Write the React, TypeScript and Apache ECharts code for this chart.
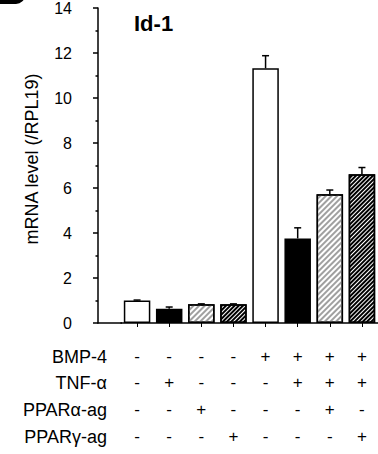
import React, { useEffect, useRef } from 'react';
import * as echarts from 'echarts';

const categories = ['c1', 'c2', 'c3', 'c4', 'c5', 'c6', 'c7', 'c8'];
const meanValues = [1.0, 0.63, 0.83, 0.83, 11.32, 3.76, 5.72, 6.61];
const errorValues = [0.02, 0.08, 0.02, 0.02, 0.56, 0.47, 0.19, 0.3];
const fillKinds = ['white', 'black', 'lightHatch', 'darkHatch', 'white', 'black', 'lightHatch', 'darkHatch'];
const rowLabels = ['BMP-4', 'TNF-α', 'PPARα-ag', 'PPARγ-ag'];
const bmp4 = ['-', '-', '-', '-', '+', '+', '+', '+'];
const tnfA = ['-', '+', '-', '-', '-', '+', '+', '+'];
const pparA = ['-', '-', '+', '-', '-', '-', '+', '-'];
const pparG = ['-', '-', '-', '+', '-', '-', '-', '+'];
const yMin = 0;
const yMax = 14;
const yInterval = 2;
const titleText = 'Id-1';
const yAxisName = 'mRNA level (/RPL19)';

const FONT = '"Liberation Sans", Arial, sans-serif';

function styleFor(kind: string) {
  const base: any = { borderColor: '#000', borderWidth: 1.5 };
  if (kind === 'white') return { ...base, color: '#fff' };
  if (kind === 'black') return { ...base, color: '#000' };
  if (kind === 'lightHatch')
    return {
      ...base,
      color: '#fff',
      decal: {
        symbol: 'rect',
        symbolSize: 1,
        color: '#a0a0a0',
        dashArrayX: [1, 0],
        dashArrayY: [1.1, 1.6],
        rotation: -Math.PI / 4,
      },
    };
  return {
    ...base,
    color: '#fff',
    decal: {
      symbol: 'rect',
      symbolSize: 1,
      color: '#000',
      dashArrayX: [1, 0],
      dashArrayY: [1.4, 1.0],
      rotation: -Math.PI / 4,
    },
  };
}

export default function App() {
  const ref = useRef<HTMLDivElement>(null);
  useEffect(() => {
    if (!ref.current) return;
    const chart = echarts.init(ref.current, null, { renderer: 'svg' });
    const rowY = [356.7, 383.3, 410, 436.5];
    chart.setOption({
      animation: false,
      backgroundColor: '#fff',
      grid: { left: 121, right: 0, top: 7.5, bottom: 131, containLabel: false },
      xAxis: {
        type: 'category',
        data: categories,
        axisLine: { show: true, lineStyle: { color: '#000', width: 1.5 } },
        axisTick: { show: true, alignWithLabel: true, length: 4, lineStyle: { color: '#000', width: 1 } },
        axisLabel: {
          interval: 0,
          margin: 20,
          fontSize: 17,
          lineHeight: 26.6,
          color: '#000',
          fontFamily: FONT,
          formatter: (_v: string, i: number) => [bmp4[i], tnfA[i], pparA[i], pparG[i]].join('\n'),
        },
        splitLine: { show: false },
      },
      yAxis: {
        type: 'value',
        min: yMin,
        max: yMax,
        interval: yInterval,
        offset: 23,
        name: yAxisName,
        nameLocation: 'middle',
        nameGap: 57,
        nameTextStyle: { fontSize: 18, color: '#000', fontFamily: FONT, padding: [0, 0, 0, 13] },
        axisLine: { show: true, lineStyle: { color: '#000', width: 1.5 } },
        axisTick: { show: true, inside: false, length: 5, lineStyle: { color: '#000', width: 1.5 } },
        minorTick: { show: true, splitNumber: 2, length: 2.5, lineStyle: { color: '#000', width: 1.5 } },
        axisLabel: { margin: 26, fontSize: 16, color: '#000', fontFamily: FONT },
        splitLine: { show: false },
      },
      graphic: [
        {
          type: 'rect',
          shape: { x: -3, y: -8, width: 28, height: 12, r: [0, 0, 9, 0] },
          style: { fill: '#000' },
        },
        {
          type: 'text',
          x: 134,
          y: 23.5,
          style: { text: titleText, font: `bold 22px ${FONT}`, fill: '#000', verticalAlign: 'middle' },
        },
        {
          type: 'line',
          shape: { x1: 97.5, y1: 323, x2: 122, y2: 323 },
          style: { stroke: '#000', lineWidth: 1.5 },
        },
        ...rowLabels.map((t, k) => ({
          type: 'text',
          x: 107,
          y: rowY[k],
          style: {
            text: t,
            font: `18px ${FONT}`,
            fill: '#000',
            align: 'right',
            verticalAlign: 'middle',
          },
        })),
      ],
      series: [
        {
          type: 'bar',
          barWidth: 26.5,
          data: meanValues.map((v, i) => ({ value: v, itemStyle: styleFor(fillKinds[i]) })),
          z: 2,
        },
        {
          type: 'custom',
          z: 3,
          encode: { x: 0, y: 1 },
          data: meanValues.map((v, i) => [i, v, errorValues[i]]),
          renderItem: (_p: any, api: any) => {
            const i = api.value(0);
            const v = api.value(1);
            const e = api.value(2);
            const b = api.coord([i, v]);
            const t = api.coord([i, v + e]);
            const cap = 3.5;
            return {
              type: 'group',
              children: [
                { type: 'line', shape: { x1: b[0], y1: b[1], x2: t[0], y2: t[1] }, style: { stroke: '#000', lineWidth: 1.5 } },
                { type: 'line', shape: { x1: t[0] - cap, y1: t[1], x2: t[0] + cap, y2: t[1] }, style: { stroke: '#000', lineWidth: 1.5 } },
              ],
            };
          },
        },
      ],
    });
    return () => chart.dispose();
  }, []);
  return <div ref={ref} style={{ position: 'absolute', left: 0, top: 0, width: 378, height: 454 }} />;
}
